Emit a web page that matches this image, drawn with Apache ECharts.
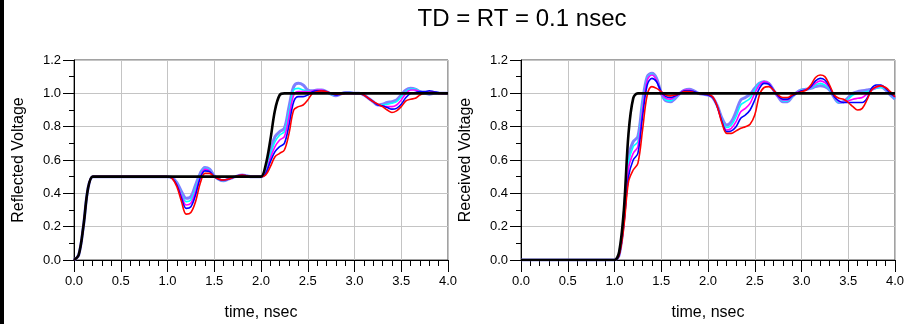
<!DOCTYPE html>
<html>
<head>
<meta charset="utf-8">
<script src="https://cdn.jsdelivr.net/npm/echarts@6/dist/echarts.min.js"></script>
<style>
  html, body { margin: 0; padding: 0; background: #fff; }
  #main { width: 907px; height: 324px; }
</style>
</head>
<body>
<div id="main"></div>
<script>
// time axis (nsec), shared by both panels
var times = [
  0, 0.05, 0.1, 0.15, 0.2, 0.25, 0.3, 0.35, 0.4, 0.45,
  0.5, 0.55, 0.6, 0.65, 0.7, 0.75, 0.8, 0.85, 0.9, 0.95,
  1.0, 1.05, 1.1, 1.15, 1.2, 1.25, 1.3, 1.35, 1.4, 1.45,
  1.5, 1.55, 1.6, 1.65, 1.7, 1.75, 1.8, 1.85, 1.9, 1.95,
  2.0, 2.05, 2.1, 2.15, 2.2, 2.25, 2.3, 2.35, 2.4, 2.45,
  2.5, 2.55, 2.6, 2.65, 2.7, 2.75, 2.8, 2.85, 2.9, 2.95,
  3.0, 3.05, 3.1, 3.15, 3.2, 3.25, 3.3, 3.35, 3.4, 3.45,
  3.5, 3.55, 3.6, 3.65, 3.7, 3.75, 3.8, 3.85, 3.9, 3.95,
  4.0
];
var xTicks = ['0.0', '0.5', '1.0', '1.5', '2.0', '2.5', '3.0', '3.5', '4.0'];
var yTicks = ['0.0', '0.2', '0.4', '0.6', '0.8', '1.0', '1.2'];

var seriesNames = ['red', 'blue', 'magenta', 'cyan', 'purple', 'ideal'];

// ---- Reflected voltage (left panel) ----
// 0 .. 0.95 ns: every trace sits under the black one
var reflLead = [0, 0.03, 0.2, 0.43, 0.5, 0.5, 0.5, 0.5, 0.5, 0.5,
                0.5, 0.5, 0.5, 0.5, 0.5, 0.5, 0.5, 0.5, 0.5, 0.5];

var reflIdeal = reflLead.concat([
  0.5, 0.5, 0.5, 0.5, 0.5, 0.5, 0.5, 0.5, 0.5, 0.5,
  0.5, 0.5, 0.5, 0.5, 0.5, 0.5, 0.5, 0.5, 0.5, 0.5,
  0.5, 0.57, 0.72, 0.9, 0.99, 1, 1, 1, 1, 1,
  1, 1, 1, 1, 1, 1, 1, 1, 1, 1,
  1, 1, 1, 1, 1, 1, 1, 1, 1, 1,
  1, 1, 1, 1, 1, 1, 1, 1, 1, 1,
  1
]);
var reflRed = reflLead.concat([
  0.5, 0.49, 0.44, 0.35, 0.275, 0.285, 0.35, 0.46, 0.52, 0.52,
  0.5, 0.485, 0.48, 0.485, 0.495, 0.505, 0.51, 0.505, 0.5, 0.5,
  0.5, 0.51, 0.56, 0.62, 0.64, 0.66, 0.76, 0.9, 0.92, 0.93,
  0.96, 1.0, 1.01, 1.015, 1.01, 1.0, 0.995, 0.995, 1.0, 1.0,
  1.0, 1.0, 0.99, 0.97, 0.95, 0.935, 0.92, 0.9, 0.885, 0.895,
  0.92, 0.955, 0.965, 0.97, 0.99, 1.0, 1.005, 1.005, 1.0, 1.0,
  1.0
]);
var reflBlue = reflLead.concat([
  0.5, 0.49, 0.45, 0.37, 0.31, 0.32, 0.39, 0.49, 0.535, 0.53,
  0.5, 0.485, 0.48, 0.485, 0.495, 0.505, 0.51, 0.505, 0.5, 0.5,
  0.5, 0.52, 0.59, 0.65, 0.68, 0.7, 0.81, 0.95, 0.98, 0.98,
  0.99, 1.01, 1.015, 1.015, 1.01, 1.0, 0.99, 0.995, 1.0, 1.0,
  1.0, 1.0, 0.99, 0.97, 0.95, 0.93, 0.925, 0.915, 0.905, 0.91,
  0.935, 0.975, 1.0, 1.005, 1.01, 1.01, 1.015, 1.01, 1.005, 1.0,
  1.0
]);
var reflMagenta = reflLead.concat([
  0.5, 0.49, 0.455, 0.385, 0.33, 0.34, 0.41, 0.5, 0.545, 0.535,
  0.5, 0.485, 0.478, 0.485, 0.495, 0.505, 0.51, 0.505, 0.5, 0.5,
  0.5, 0.52, 0.61, 0.68, 0.72, 0.74, 0.86, 0.99, 1.01, 1.01,
  1.01, 1.015, 1.02, 1.02, 1.01, 1.0, 0.99, 0.995, 1.0, 1.0,
  1.0, 1.0, 0.99, 0.97, 0.95, 0.93, 0.925, 0.92, 0.92, 0.93,
  0.96, 1.0, 1.02, 1.02, 1.01, 1.005, 1.005, 1.005, 1.0, 1.0,
  1.0
]);
var reflCyan = reflLead.concat([
  0.5, 0.49, 0.46, 0.395, 0.35, 0.36, 0.43, 0.51, 0.55, 0.54,
  0.5, 0.483, 0.476, 0.485, 0.495, 0.505, 0.51, 0.505, 0.5, 0.5,
  0.5, 0.53, 0.63, 0.71, 0.75, 0.77, 0.89, 1.02, 1.03, 1.02,
  1.015, 1.015, 1.02, 1.02, 1.01, 0.995, 0.99, 0.995, 1.0, 1.005,
  1.0, 1.0, 0.99, 0.97, 0.95, 0.93, 0.93, 0.935, 0.94, 0.95,
  0.98, 1.01, 1.025, 1.025, 1.01, 1.0, 1.0, 1.005, 1.0, 1.0,
  1.0
]);
var reflPurple = reflLead.concat([
  0.5, 0.495, 0.465, 0.41, 0.37, 0.38, 0.45, 0.52, 0.555, 0.545,
  0.505, 0.483, 0.475, 0.485, 0.495, 0.505, 0.51, 0.505, 0.5, 0.5,
  0.5, 0.53, 0.65, 0.74, 0.77, 0.79, 0.92, 1.04, 1.06, 1.05,
  1.02, 1.015, 1.02, 1.02, 1.01, 0.995, 0.985, 0.995, 1.005, 1.005,
  1.0, 1.0, 0.99, 0.97, 0.95, 0.93, 0.935, 0.945, 0.95, 0.96,
  0.99, 1.02, 1.03, 1.025, 1.01, 1.0, 0.995, 1.0, 1.0, 1.0,
  1.0
]);

// ---- Received voltage (right panel) ----
// 0 .. 1.0 ns: nothing has arrived yet
var recvLead = [0, 0, 0, 0, 0, 0, 0, 0, 0, 0,
                0, 0, 0, 0, 0, 0, 0, 0, 0, 0, 0];

var recvIdeal = recvLead.concat([
  0.05, 0.3, 0.76, 0.97, 1, 1, 1, 1, 1,
  1, 1, 1, 1, 1, 1, 1, 1, 1, 1,
  1, 1, 1, 1, 1, 1, 1, 1, 1, 1,
  1, 1, 1, 1, 1, 1, 1, 1, 1, 1,
  1, 1, 1, 1, 1, 1, 1, 1, 1, 1,
  1, 1, 1, 1, 1, 1, 1, 1, 1, 1,
  1
]);
var recvRed = recvLead.concat([
  0.03, 0.2, 0.47, 0.54, 0.58, 0.78, 0.99, 1.04, 1.03,
  1.01, 0.99, 0.985, 0.99, 1.0, 1.01, 1.01, 1.005, 1.0, 1.0,
  0.995, 0.98, 0.92, 0.82, 0.76, 0.76, 0.775, 0.79, 0.8, 0.815,
  0.87, 0.99, 1.035, 1.04, 1.02, 0.99, 0.975, 0.975, 0.99, 1.0,
  1.01, 1.02, 1.05, 1.095, 1.11, 1.1, 1.05, 0.99, 0.97, 0.965,
  0.945, 0.92, 0.9, 0.91, 0.96, 1.02, 1.04, 1.045, 1.035, 1.01,
  0.98
]);
var recvBlue = recvLead.concat([
  0.03, 0.22, 0.5, 0.6, 0.64, 0.86, 1.05, 1.09, 1.07,
  1.01, 0.98, 0.975, 0.985, 1.0, 1.015, 1.015, 1.01, 1.0, 0.995,
  0.99, 0.975, 0.92, 0.83, 0.77, 0.775, 0.8, 0.85, 0.87, 0.9,
  0.96, 1.03, 1.06, 1.055, 1.02, 0.985, 0.965, 0.965, 0.985, 1.0,
  1.015, 1.02, 1.04, 1.075, 1.09, 1.08, 1.04, 0.98, 0.955, 0.945,
  0.945, 0.945, 0.945, 0.945, 0.97, 1.03, 1.05, 1.05, 1.03, 1.0,
  0.98
]);
var recvMagenta = recvLead.concat([
  0.03, 0.23, 0.55, 0.64, 0.68, 0.9, 1.08, 1.11, 1.08,
  1.0, 0.97, 0.965, 0.98, 1.0, 1.02, 1.02, 1.01, 1.0, 0.995,
  0.99, 0.975, 0.92, 0.83, 0.78, 0.79, 0.83, 0.89, 0.91, 0.94,
  1.0, 1.05, 1.07, 1.06, 1.02, 0.98, 0.96, 0.96, 0.985, 1.005,
  1.015, 1.025, 1.035, 1.06, 1.075, 1.065, 1.035, 0.98, 0.95, 0.945,
  0.955, 0.965, 0.97, 0.975, 0.995, 1.02, 1.035, 1.045, 1.03, 1.0,
  0.975
]);
var recvCyan = recvLead.concat([
  0.03, 0.24, 0.58, 0.68, 0.71, 0.93, 1.09, 1.115, 1.08,
  1.0, 0.96, 0.955, 0.975, 1.0, 1.02, 1.02, 1.01, 1.0, 0.995,
  0.99, 0.975, 0.92, 0.84, 0.795, 0.81, 0.86, 0.93, 0.95, 0.97,
  1.02, 1.06, 1.07, 1.06, 1.02, 0.98, 0.955, 0.955, 0.98, 1.005,
  1.02, 1.025, 1.03, 1.05, 1.06, 1.05, 1.025, 0.98, 0.945, 0.945,
  0.965, 0.99, 1.0, 1.005, 1.01, 1.02, 1.03, 1.035, 1.025, 0.995,
  0.97
]);
var recvPurple = recvLead.concat([
  0.03, 0.25, 0.62, 0.71, 0.74, 0.95, 1.1, 1.12, 1.09,
  1.0, 0.955, 0.95, 0.97, 1.0, 1.02, 1.025, 1.015, 1.0, 0.995,
  0.99, 0.975, 0.925, 0.85, 0.81, 0.83, 0.89, 0.96, 0.975, 0.995,
  1.03, 1.06, 1.07, 1.06, 1.02, 0.98, 0.95, 0.95, 0.98, 1.005,
  1.02, 1.025, 1.03, 1.04, 1.045, 1.04, 1.02, 0.975, 0.945, 0.95,
  0.975, 1.0, 1.01, 1.015, 1.02, 1.025, 1.035, 1.04, 1.02, 0.99,
  0.965
]);

var FONT = "'Liberation Sans', Arial, sans-serif";

function pairs(vals) {
  var out = [];
  for (var i = 0; i < times.length; i++) {
    out.push([times[i], vals[i]]);
  }
  return out;
}

function xAxisFor(idx) {
  return {
    gridIndex: idx,
    type: 'value',
    min: 0, max: 4, interval: 0.5,
    name: 'time, nsec',
    nameLocation: 'middle',
    nameGap: 45,
    nameTextStyle: { fontSize: 16, color: '#000', fontFamily: FONT },
    axisLine: { onZero: false, lineStyle: { color: '#000', width: 1 } },
    axisTick: { show: true, length: 12, lineStyle: { color: '#000' } },
    minorTick: { show: true, splitNumber: 5, length: 6, lineStyle: { color: '#000' } },
    axisLabel: {
      margin: 15, fontSize: 13, color: '#000', fontFamily: FONT,
      formatter: function (v) { return xTicks[Math.round(v / 0.5)]; }
    },
    splitLine: { show: true, lineStyle: { color: '#c4c4c4', width: 1 } }
  };
}

function yAxisFor(idx, label) {
  return {
    gridIndex: idx,
    type: 'value',
    min: 0, max: 1.2, interval: 0.2,
    name: label,
    nameLocation: 'middle',
    nameGap: 47,
    nameTextStyle: { fontSize: 16, color: '#000', fontFamily: FONT },
    axisLine: { show: true, lineStyle: { color: '#000', width: 1 } },
    axisTick: { show: true, length: 11, lineStyle: { color: '#000' } },
    minorTick: { show: true, splitNumber: 2, length: 5, lineStyle: { color: '#000' } },
    axisLabel: {
      margin: 13, fontSize: 13, color: '#000', fontFamily: FONT,
      formatter: function (v) { return yTicks[Math.round(v / 0.2)]; }
    },
    splitLine: { show: true, lineStyle: { color: '#c4c4c4', width: 1 } }
  };
}

var styles = {
  purple: { color: '#7f7fff', width: 3 },
  cyan: { color: '#00ffff', width: 1.6 },
  magenta: { color: '#ff00ff', width: 1.6 },
  blue: { color: '#0000ff', width: 1.6 },
  red: { color: '#ff0000', width: 1.6 },
  ideal: { color: '#000000', width: 2.6 }
};

function line(name, idx, vals) {
  return {
    name: name,
    type: 'line',
    xAxisIndex: idx,
    yAxisIndex: idx,
    data: pairs(vals),
    smooth: 0.35,
    showSymbol: false,
    symbol: 'none',
    animation: false,
    lineStyle: { color: styles[name].color, width: styles[name].width },
    itemStyle: { color: styles[name].color }
  };
}

var myChart = echarts.init(document.getElementById('main'), null, { renderer: 'canvas' });

var option = {
  backgroundColor: '#fff',
  animation: false,
  textStyle: { fontFamily: FONT },
  graphic: [
    { type: 'rect', left: 0, top: 0, shape: { width: 4, height: 324 }, style: { fill: '#000' } },
    {
      type: 'text', x: 522, y: 19,
      style: {
        text: 'TD = RT = 0.1 nsec', fill: '#000',
        font: '24px ' + FONT, textAlign: 'center', textVerticalAlign: 'middle'
      }
    }
  ],
  grid: [
    { left: 74, top: 60, width: 374, height: 200, outerBoundsMode: 'none', show: true, borderColor: '#444', borderWidth: 1, backgroundColor: 'transparent' },
    { left: 521, top: 60, width: 374, height: 200, outerBoundsMode: 'none', show: true, borderColor: '#444', borderWidth: 1, backgroundColor: 'transparent' }
  ],
  xAxis: [xAxisFor(0), xAxisFor(1)],
  yAxis: [yAxisFor(0, 'Reflected Voltage'), yAxisFor(1, 'Received Voltage')],
  series: [
    line('purple', 0, reflPurple),
    line('cyan', 0, reflCyan),
    line('magenta', 0, reflMagenta),
    line('blue', 0, reflBlue),
    line('red', 0, reflRed),
    line('ideal', 0, reflIdeal),
    line('purple', 1, recvPurple),
    line('cyan', 1, recvCyan),
    line('magenta', 1, recvMagenta),
    line('blue', 1, recvBlue),
    line('red', 1, recvRed),
    line('ideal', 1, recvIdeal)
  ]
};

myChart.setOption(option);

window.onresize = function () {
  myChart.resize();
};
</script>
</body>
</html>
